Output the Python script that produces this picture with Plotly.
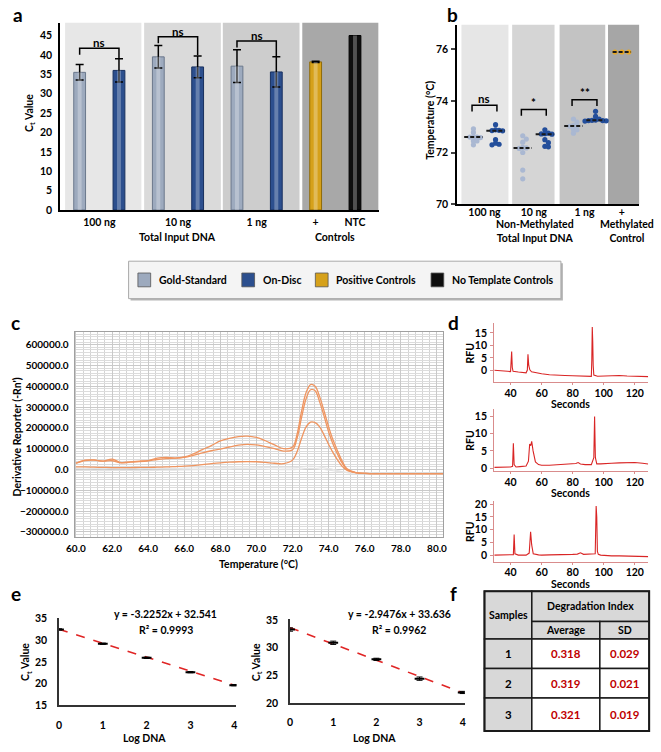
import plotly.graph_objects as go

# ============================ DATA ============================
legend_names = ["Gold-Standard", "On-Disc", "Positive Controls", "No Template Controls"]

# ---- Panel a : Ct values
a_group_labels = ["100 ng", "10 ng", "1 ng"]
a_ctrl_labels = ["+", "NTC"]
a_gold = [35.5, 39.5, 37.1]
a_gold_err = [2.0, 2.9, 4.2]
a_disc = [36.0, 36.9, 35.6]
a_disc_err = [3.0, 2.8, 3.9]
a_pos = [38.2]
a_pos_err = [0.15]
a_ntc = [45.0]
a_sig = ["ns", "ns", "ns"]

# ---- Panel b : melt temperatures
b_group_labels = ["100 ng", "10 ng", "1 ng", "+"]
b_gold = [
    [72.92, 72.78, 72.62, 72.60, 72.60, 72.58, 72.45, 72.45, 72.30],
    [72.65, 72.52, 72.40, 72.20, 72.18, 72.16, 72.00, 71.32, 70.98],
    [73.30, 73.18, 73.05, 73.03, 73.02, 72.90, 72.88, 72.75],
]
b_disc = [
    [73.08, 72.88, 72.86, 72.85, 72.84, 72.50, 72.36, 72.32, 72.30],
    [72.88, 72.75, 72.73, 72.72, 72.71, 72.50, 72.38, 72.24, 72.22],
    [73.60, 73.40, 73.30, 73.26, 73.25, 73.24, 73.24, 73.23, 73.22],
]
b_meth = [75.90, 75.90, 75.90]
b_sig = ["ns", "*", "**"]

# ---- Panel c : melt curves
c_temp = [60, 60.5, 61, 61.5, 62, 62.5, 63, 63.5, 64, 64.5, 65, 65.5, 66, 66.5, 67, 67.5,
          68, 68.5, 69, 69.5, 70, 70.5, 71, 71.5, 72, 72.25, 72.5, 72.75, 73, 73.25, 73.5,
          73.75, 74, 74.25, 74.5, 74.75, 75, 75.5, 76, 77, 78, 79, 80, 80.35]
c_s1 = [30000, 45000, 46000, 40000, 50000, 33000, 37000, 40000, 43000, 55000, 58000, 55000,
        60000, 75000, 95000, 115000, 137000, 150000, 158000, 160000, 154000, 138000, 118000,
        100000, 108000, 170000, 280000, 370000, 408000, 400000, 350000, 280000, 205000, 140000,
        88000, 40000, 5000, -15000, -19000, -20000, -20000, -20000, -20000, -20000]
c_s2 = [30000, 43000, 45000, 40000, 42000, 32000, 35000, 38000, 42000, 48000, 52000, 55000,
        58000, 68000, 80000, 90000, 98000, 108000, 117000, 121000, 118000, 110000, 100000,
        88000, 95000, 150000, 250000, 340000, 383000, 378000, 325000, 255000, 180000, 120000,
        72000, 30000, 0, -15000, -19000, -20000, -20000, -20000, -20000, -20000]
c_s3 = [12000, 12000, 11000, 10000, 9000, 9000, 9000, 10000, 10000, 11000, 12000, 14000,
        16000, 19000, 23000, 28000, 32000, 35000, 37000, 38000, 37000, 34000, 30000, 28000,
        45000, 85000, 150000, 205000, 228000, 225000, 205000, 165000, 120000, 80000, 45000,
        15000, -3000, -15000, -19000, -20000, -20000, -20000, -20000, -20000]
c_bg1 = [5000, 6000, 5000, 4000, 5000, 6000, 5000, 4000, 5000, 6000, 5000, 5000, 6000, 7000,
         8000, 9000, 10000, 11000, 12000, 12000, 11000, 10000, 9000, 8000, 8000, 9000, 12000,
         15000, 16000, 15000, 12000, 8000, 4000, 0, -5000, -10000, -14000, -17000, -19000,
         -20000, -20000, -20000, -20000, -20000]
c_bg2 = [-5000, -4000, -5000, -6000, -5000, -4000, -5000, -6000, -5000, -4000, -3000, -3000,
         -2000, -1000, 0, 1000, 2000, 2000, 3000, 3000, 2000, 1000, 0, -1000, -1000, 0, 2000,
         4000, 5000, 4000, 2000, 0, -3000, -6000, -9000, -12000, -15000, -17000, -19000,
         -20000, -20000, -20000, -20000, -20000]

# ---- Panel d : electropherograms
d1_x = [29.5, 32, 35, 38, 40, 40.3, 40.7, 41.1, 41.6, 45, 48, 50, 50.8, 51.2, 51.7, 52.4, 53.5,
        56, 60, 65, 70, 75, 80, 85, 90, 92, 92.3, 92.6, 92.9, 93.2, 93.6, 96, 100, 105, 110,
        115, 120, 125, 128.6]
d1_y = [0.1, -0.1, -0.2, -0.3, -0.4, 2.0, 7.6, 1.2, -0.3, -0.6, -0.8, -0.9, 0.2, 6.5, 2.0,
        0.3, -0.5, -0.9, -1.3, -1.7, -2.0, -2.0, -2.1, -2.2, -2.3, -2.3, 4.0, 17.3, 11.5, 2.0,
        -1.8, -2.3, -2.2, -2.2, -2.0, -2.2, -2.2, -2.3, -2.4]
d2_x = [29.5, 35, 40, 41.3, 41.8, 42.3, 43.5, 46, 50, 51.5, 52.3, 53.0, 53.6, 54.5, 56, 58,
        60, 65, 70, 75, 80, 82, 83.5, 85, 88, 92, 93.6, 94.1, 94.6, 95.5, 98, 100, 105, 110,
        115, 120, 125, 128.6]
d2_y = [0.2, 0.2, 0.3, 0.5, 7.2, 1.0, 0.3, 0.4, 0.6, 2.0, 7.0, 6.5, 7.8, 5.0, 1.8, 1.0, 0.8,
        0.8, 0.9, 1.0, 1.1, 1.3, 1.6, 1.2, 1.0, 1.0, 3.0, 15.0, 3.0, 1.2, 1.2, 1.3, 1.4, 1.5,
        1.6, 1.6, 1.4, 1.2]
d3_x = [29.5, 35, 40, 41.8, 42.3, 42.8, 45, 50, 52, 52.9, 53.6, 54.6, 58, 60, 65, 70, 75,
        80, 83, 85, 87, 90, 94.5, 95.1, 95.5, 95.9, 96.5, 98, 100, 105, 110, 115, 120, 125,
        128.6]
d3_y = [0.0, 0.0, 0.0, 0.2, 8.1, 0.5, 0.0, 0.0, 0.8, 9.2, 4.0, 0.5, 0.1, 0.0, 0.1, 0.1, 0.2,
        0.3, 0.4, 0.9, 0.3, 0.3, 0.5, 19.3, 15.0, 1.5, 0.3, 0.0, -0.1, -0.3, -0.3, -0.4, -0.4,
        -0.5, -0.6]

# ---- Panel e : standard curves
e_log = [0, 1, 2, 3, 4]
e1_ct = [32.5, 29.2, 25.95, 22.65, 19.65]
e1_err = [0.15, 0.15, 0.15, 0.15, 0.15]
e1_slope, e1_int, e1_r2 = -3.2252, 32.541, 0.9993
e2_ct = [33.3, 30.9, 27.9, 24.4, 21.9]
e2_err = [0.3, 0.3, 0.2, 0.3, 0.2]
e2_slope, e2_int, e2_r2 = -2.9476, 33.636, 0.9962

# ---- Panel f : degradation index table
f_samples = ["1", "2", "3"]
f_avg = ["0.318", "0.319", "0.321"]
f_sd = ["0.029", "0.021", "0.019"]

# ============================ STYLE ============================
W, H = 661, 752
FONT = "Lato"
GOLD, GOLD_LN = "#9DAABE", "#6B788C"
DISC, DISC_LN = "#2C4F8E", "#18305F"
POS, POS_LN = "#D6A11A", "#8F6A08"
NTC = "#0E0E0E"
B_GOLD, B_DISC, B_METH = "#AAB8D2", "#234E9B", "#E9A820"
ORANGE = "#EF9560"
RED = "#D92525"
FS = 10.5


def X(px):
    return px / W


def Y(py):
    return 1 - py / H


def bold(size=FS, color="black"):
    return dict(family=FONT, size=size, color=color, weight="bold")


fig = go.Figure()
shapes, anns = [], []


def ann(px, py, text, size=FS, color="black", angle=0, xanchor="center", **kw):
    anns.append(dict(x=X(px), y=Y(py), xref="paper", yref="paper", text=text, showarrow=False,
                     font=bold(size, color), textangle=angle, xanchor=xanchor, yanchor="middle", **kw))


def axis(domain, rng, **kw):
    d = dict(domain=domain, range=rng, showgrid=False, zeroline=False, showline=True,
             linecolor="black", linewidth=1.5, ticks="", tickfont=bold(FS))
    d.update(kw)
    return d


# ============================ PANEL a ============================
gold_x = [2 * i for i in range(3)]
disc_x = [2 * i + 1 for i in range(3)]
BW = 0.3
fig.add_trace(go.Bar(x=gold_x, y=a_gold, width=BW, marker=dict(color=GOLD, line=dict(color=GOLD_LN, width=1)),
                     error_y=dict(type="data", array=a_gold_err, color="black", thickness=1.5, width=4),
                     xaxis="x", yaxis="y", name=legend_names[0]))
fig.add_trace(go.Bar(x=disc_x, y=a_disc, width=BW, marker=dict(color=DISC, line=dict(color=DISC_LN, width=1)),
                     error_y=dict(type="data", array=a_disc_err, color="black", thickness=1.5, width=4),
                     xaxis="x", yaxis="y", name=legend_names[1]))
fig.add_trace(go.Bar(x=[6], y=a_pos, width=BW, marker=dict(color=POS, line=dict(color=POS_LN, width=1)),
                     error_y=dict(type="data", array=a_pos_err, color="black", thickness=1.5, width=4),
                     xaxis="x", yaxis="y", name=legend_names[2]))
fig.add_trace(go.Bar(x=[7], y=a_ntc, width=BW, marker=dict(color=NTC, line=dict(color="#000", width=1)),
                     xaxis="x", yaxis="y", name=legend_names[3]))
fig.add_trace(go.Bar(x=gold_x + disc_x + [6, 7], y=a_gold + a_disc + a_pos + a_ntc, width=0.1,
                     marker=dict(color="rgba(255,255,255,0.28)", line=dict(width=0)),
                     xaxis="x", yaxis="y", hoverinfo="skip"))

a_bg = [("#E7E7E7", -0.37, 1.57), ("#DADADA", 1.64, 3.59), ("#CDCDCD", 3.64, 5.59), ("#A8A8A8", 5.66, 7.6)]
for col, x0, x1 in a_bg:
    shapes.append(dict(type="rect", xref="x", yref="y domain", x0=x0, x1=x1, y0=0, y1=1,
                       fillcolor=col, line=dict(width=0), layer="below"))

a_bracket_h = [41.75, 44.7, 43.6]
for i in range(3):
    h = a_bracket_h[i]
    gl = max(a_gold[i] + a_gold_err[i] + 0.3, h - 1.7)
    dl = a_disc[i] + a_disc_err[i] + 0.2
    x0, x1 = gold_x[i], disc_x[i]
    shapes.append(dict(type="path", xref="x", yref="y",
                       path=f"M {x0},{gl} L {x0},{h} L {x1},{h} L {x1},{dl}",
                       line=dict(color="black", width=1.5)))
    anns.append(dict(x=(x0 + x1) / 2, y=h + 1.35, xref="x", yref="y", text=a_sig[i], showarrow=False,
                     font=bold(11.5), yanchor="middle"))

fig.update_layout(
    xaxis=axis([X(52), X(377)], [-0.5, 7.6], tickvals=[0.5, 2.5, 4.5, 6, 7],
               ticktext=a_group_labels + a_ctrl_labels, ticklabelstandoff=2, anchor="y"),
    yaxis=axis([Y(208), Y(18)], [0, 48.3], dtick=5, anchor="x", ticklabelstandoff=4),
)
ann(172, 235, "Total Input DNA")
ann(333, 235, "Controls")
ann(22, 110, "C<sub>t</sub> Value", angle=-90)

# ============================ PANEL b ============================
b_pos = [0, 1.07, 2.17, 2.98]
B_OFF = 0.24
BX_PX, BY_PX = 47.0, 26.15


def swarm(vals, center, d=3.6, r=4.6):
    placed, out = [], [0.0] * len(vals)
    for i in sorted(range(len(vals)), key=lambda j: -vals[j]):
        v = vals[i]
        ox = 0.0
        for k in [0, 1, -1, 2, -2, 3, -3, 4, -4]:
            ox = k * d
            if all((ox - px) ** 2 + ((v - pv) * BY_PX) ** 2 >= r * r * 0.55 for px, pv in placed):
                break
        placed.append((ox, v))
        out[i] = center + ox / BX_PX
    return out


def median(v):
    s = sorted(v)
    n = len(s)
    return s[n // 2] if n % 2 else (s[n // 2 - 1] + s[n // 2]) / 2


MED_LINE = dict(color="#1A1A1A", width=2, dash="4px,2px")
for i in range(3):
    for vals, off, col in [(b_gold[i], -B_OFF, B_GOLD), (b_disc[i], B_OFF, B_DISC)]:
        c = b_pos[i] + off
        fig.add_trace(go.Scatter(x=swarm(vals, c), y=vals, mode="markers",
                                 marker=dict(color=col, size=5.2), xaxis="x2", yaxis="y2"))
        m = median(vals)
        shapes.append(dict(type="line", xref="x2", yref="y2", x0=c - 0.2, x1=c + 0.2, y0=m, y1=m,
                           line=MED_LINE))
fig.add_trace(go.Scatter(x=swarm(b_meth, b_pos[3], d=7.0, r=7.0), y=b_meth, mode="markers",
                         marker=dict(color=B_METH, size=5.2), xaxis="x2", yaxis="y2"))
mm = median(b_meth)
shapes.append(dict(type="line", xref="x2", yref="y2", x0=b_pos[3] - 0.2, x1=b_pos[3] + 0.2, y0=mm, y1=mm,
                   line=MED_LINE))

b_bg = [("#E6E6E6", -0.5, 0.52), ("#D5D5D5", 0.6, 1.52), ("#C3C3C3", 1.63, 2.62), ("#A6A6A6", 2.68, 3.36)]
for col, x0, x1 in b_bg:
    shapes.insert(0, dict(type="rect", xref="x2", yref="y2 domain", x0=x0, x1=x1, y0=0, y1=1,
                          fillcolor=col, line=dict(width=0), layer="below"))

b_bracket_h = [73.83, 73.67, 74.05]
for i in range(3):
    h = b_bracket_h[i]
    x0, x1 = b_pos[i] - B_OFF - 0.03, b_pos[i] + B_OFF + 0.03
    shapes.append(dict(type="path", xref="x2", yref="y2",
                       path=f"M {x0},{h - 0.24} L {x0},{h} L {x1},{h} L {x1},{h - 0.24}",
                       line=dict(color="black", width=1.5)))
    anns.append(dict(x=b_pos[i], y=h + 0.27, xref="x2", yref="y2", text=b_sig[i], showarrow=False,
                     font=bold(11.5), yanchor="middle"))

fig.update_layout(
    xaxis2=axis([X(457), X(643)], [-0.596, 3.36], tickvals=b_pos, ticktext=b_group_labels,
                ticklabelstandoff=-2, anchor="y2"),
    yaxis2=axis([Y(202), Y(20)], [70, 76.96], tickvals=[70, 72, 74, 76], ticks="outside",
                ticklen=4, tickwidth=1.5, ticklabelstandoff=1, anchor="x2"),
)
ann(537, 229.5, "Non-Methylated<br>Total Input DNA")
ann(630, 229.5, "Methylated<br>Control")
ann(430, 117, "Temperature (°C)", angle=-90)

# ---- legend box
shapes.append(dict(type="rect", xref="paper", yref="paper", x0=X(124), x1=X(565), y0=Y(300), y1=Y(262),
                   fillcolor="#B5B5B5", line=dict(width=0)))
shapes.append(dict(type="rect", xref="paper", yref="paper", x0=X(122), x1=X(563), y0=Y(298), y1=Y(260),
                   fillcolor="#F4F4F4", line=dict(color="#A8A8A8", width=1)))
leg_cols = [GOLD, DISC, POS, NTC]
leg_sw = [138, 244, 319, 437]
for name, col, sx in zip(legend_names, leg_cols, leg_sw):
    shapes.append(dict(type="rect", xref="paper", yref="paper", x0=X(sx - 6.5), x1=X(sx + 6.5),
                       y0=Y(286), y1=Y(272), fillcolor=col, line=dict(color="#555", width=0.8)))
    ann(sx + 13, 279.5, name, xanchor="left")

# ============================ PANEL c ============================
for ys in [c_bg1, c_bg2]:
    fig.add_trace(go.Scatter(x=c_temp, y=ys, mode="lines", line=dict(color="#E4E4E4", width=1.2, shape="spline"),
                             xaxis="x3", yaxis="y3"))
for ys in [c_s3, c_s2, c_s1]:
    fig.add_trace(go.Scatter(x=c_temp, y=ys, mode="lines", line=dict(color=ORANGE, width=1.3, shape="spline"),
                             xaxis="x3", yaxis="y3"))
fig.update_layout(
    xaxis3=axis([X(67), X(443)], [59.93, 80.35], tick0=60, dtick=2, tickformat=".1f", showgrid=True,
                gridcolor="#C9C9C9", gridwidth=1, linecolor="#A0A0A0", linewidth=1, mirror=True,
                minor=dict(dtick=0.4, showgrid=True, gridcolor="#D4D4D4", gridwidth=1),
                tickfont=bold(10), ticklabelstandoff=2, anchor="y3"),
    yaxis3=axis([Y(540), Y(332)], [-325000, 660000], tick0=0, dtick=100000, tickformat=".1f", showgrid=True,
                gridcolor="#C9C9C9", gridwidth=1, linecolor="#A0A0A0", linewidth=1, mirror=True,
                minor=dict(dtick=12500, showgrid=True, gridcolor="#DCDCDC", gridwidth=1),
                tickfont=bold(10), ticklabelstandoff=3, anchor="x3"),
)
ann(8, 438, "Derivative Reporter (-Rn')", angle=-90)
ann(255, 567, "Temperature (°C)")

# ============================ PANEL d ============================
d_sets = [(d1_x, d1_y, 323, 382.7, [-4.6, 18.8], [0, 5, 10, 15], "4"),
          (d2_x, d2_y, 410, 472.7, [-0.8, 17.2], [0, 5, 10, 15], "5"),
          (d3_x, d3_y, 503, 565, [-2.6, 21.4], [0, 5, 10, 15, 20], "6")]
for xs, ys, top, bot, yr, yt, k in d_sets:
    fig.add_trace(go.Scatter(x=xs, y=ys, mode="lines", line=dict(color=RED, width=1.1),
                             xaxis="x" + k, yaxis="y" + k))
    fig.update_layout(**{
        "xaxis" + k: axis([X(495), X(652)], [29.5, 128.6], tickvals=[40, 60, 80, 100, 120],
                          linecolor="#D98C8C", linewidth=1.3, ticks="outside", ticklen=2,
                          tickcolor="#D98C8C", tickfont=bold(10.5), ticklabelstandoff=-1, anchor="y" + k),
        "yaxis" + k: axis([Y(bot), Y(top)], yr, tickvals=yt, linecolor="#D98C8C", linewidth=1.3,
                          ticks="outside", ticklen=3, tickcolor="#D98C8C", tickfont=bold(10.5),
                          ticklabelstandoff=1, anchor="x" + k),
    })
    ann(470, (top + bot) / 2, "RFU", angle=-90)
    ann(573, bot + 22.5, "Seconds")

# ============================ PANEL e ============================
e_sets = [(e1_ct, e1_err, e1_slope, e1_int, e1_r2, 51, 232, 621.7, 710.7, [15, 35.23], [15, 20, 25, 30, 35], "7", 160, 18),
          (e2_ct, e2_err, e2_slope, e2_int, e2_r2, 286.7, 465, 623, 708.3, [20, 35.23], [20, 25, 30, 35], "8", 398, 253)]
for ct, err, sl, ic, r2, l, r, top, bot, yr, yt, k, tx, ytx in e_sets:
    fig.add_trace(go.Scatter(x=[e_log[0], e_log[-1]], y=[ic + sl * e_log[0], ic + sl * e_log[-1]],
                             mode="lines", line=dict(color="#E02525", width=1.6, dash="dash"),
                             xaxis="x" + k, yaxis="y" + k))
    fig.add_trace(go.Scatter(x=e_log, y=ct, mode="markers",
                             marker=dict(symbol="line-ew", size=7, color="black", line=dict(width=2, color="black")),
                             error_y=dict(type="data", array=err, color="black", thickness=1, width=3),
                             xaxis="x" + k, yaxis="y" + k))
    fig.update_layout(**{
        "xaxis" + k: axis([X(l), X(r)], [0, 4.05], tickvals=e_log, linecolor="#333",
                          ticklabelstandoff=9, anchor="y" + k),
        "yaxis" + k: axis([Y(bot), Y(top)], yr, tickvals=yt, linecolor="#333",
                          ticklabelstandoff=8, anchor="x" + k),
    })
    ann(tx, 618, f"y = {sl:.4f}x + {ic:.3f}")
    ann(tx, 634, f"R² = {r2:.4f}")
    ann((l + r) / 2 - 3, 744, "Log DNA")
    ann(ytx, 667, "C<sub>t</sub> Value", angle=-90)

# ============================ PANEL f ============================
cx = [485, 533.3, 602.7, 653]
ry = [595, 625.7, 643.3, 673.3, 703.3, 736.7]
HDR = "#D8D8D8"


def cell(x0, x1, y0, y1, fill):
    shapes.append(dict(type="rect", xref="paper", yref="paper", x0=X(x0), x1=X(x1), y0=Y(y1), y1=Y(y0),
                       fillcolor=fill, line=dict(color="#1A1A1A", width=1.5)))


cell(cx[0], cx[1], ry[0], ry[2], HDR)
cell(cx[1], cx[3], ry[0], ry[1], HDR)
cell(cx[1], cx[2], ry[1], ry[2], HDR)
cell(cx[2], cx[3], ry[1], ry[2], HDR)
ann((cx[0] + cx[1]) / 2, (ry[0] + ry[2]) / 2, "Samples")
ann((cx[1] + cx[3]) / 2, (ry[0] + ry[1]) / 2, "Degradation Index")
ann((cx[1] + cx[2]) / 2, (ry[1] + ry[2]) / 2, "Average")
ann((cx[2] + cx[3]) / 2, (ry[1] + ry[2]) / 2, "SD")
for i, (s, a, sd) in enumerate(zip(f_samples, f_avg, f_sd)):
    y0, y1 = ry[2 + i], ry[3 + i]
    cell(cx[0], cx[1], y0, y1, HDR)
    cell(cx[1], cx[2], y0, y1, "white")
    cell(cx[2], cx[3], y0, y1, "white")
    ann((cx[0] + cx[1]) / 2, (y0 + y1) / 2, s, size=11.5)
    ann((cx[1] + cx[2]) / 2, (y0 + y1) / 2, a, size=11.5, color="#C00000")
    ann((cx[2] + cx[3]) / 2, (y0 + y1) / 2, sd, size=11.5, color="#C00000")
shapes.append(dict(type="rect", xref="paper", yref="paper", x0=X(cx[0]), x1=X(cx[3]), y0=Y(ry[5]), y1=Y(ry[0]),
                   line=dict(color="#1A1A1A", width=2)))

# ---- panel letters
for letter, px, py in [("a", 9, 10), ("b", 452, 10), ("c", 7, 322), ("d", 453, 322), ("e", 7, 597), ("f", 453, 597)]:
    ann(px, py, letter, size=19)

fig.update_layout(
    width=W, height=H, margin=dict(l=0, r=0, t=0, b=0), paper_bgcolor="white", plot_bgcolor="white",
    showlegend=False, barmode="overlay", shapes=shapes, annotations=anns,
    font=dict(family=FONT, size=FS, color="black"),
)
fig.write_html("out.html", config={"displayModeBar": False},
               post_script="document.body.style.margin='0';document.body.style.overflow='hidden';")
